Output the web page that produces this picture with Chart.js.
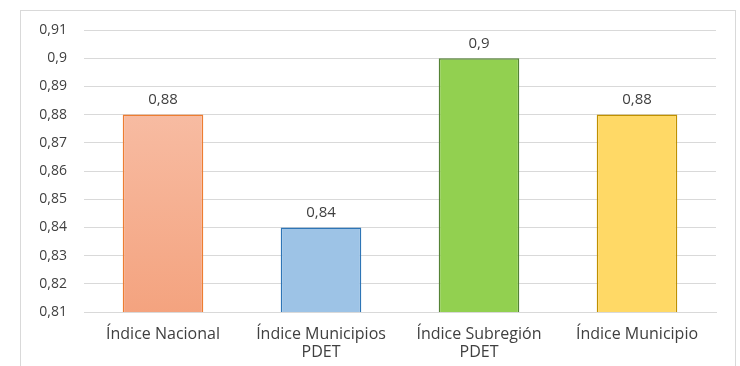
<!DOCTYPE html>
<html>
<head>
<meta charset="utf-8">
<script src="https://cdn.jsdelivr.net/npm/chart.js@4.4.1/dist/chart.umd.min.js"></script>
<style>
    html, body { margin: 0; padding: 0; background: #ffffff; }
    #wrap { position: relative; width: 740px; height: 366px; overflow: hidden; }
    #frame {
        position: absolute; left: 20px; top: 10px; width: 716px; height: 380px;
        border: 1px solid #d9d9d9; box-sizing: border-box;
    }
    #chartIndices { position: absolute; left: 0; top: 0; }
</style>
</head>
<body>
<div id="wrap">
    <div id="frame"></div>
    <canvas id="chartIndices" width="740" height="366"></canvas>
</div>
<script>
/* ------------------------------------------------------------
   Дані
------------------------------------------------------------ */
const categories = [
    "Índice Nacional",
    ["Índice Municipios", "PDET"],
    ["Índice Subregión", "PDET"],
    "Índice Municipio"
];
const values = [0.88, 0.84, 0.90, 0.88];
const yTicks = [0.81, 0.82, 0.83, 0.84, 0.85, 0.86, 0.87, 0.88, 0.89, 0.90, 0.91];

const fillColors = [null, "#9dc3e6", "#92d050", "#ffd966"];
const borderColors = ["#ed7d31", "#2e75b6", "#548235", "#bf9000"];

const FONT = "'Open Sans', Lato, sans-serif";
const TEXT = "#404040";

// 0.9 -> "0,9", 0.88 -> "0,88"
function fmt(v) {
    return String(Number(v.toFixed(2))).replace(".", ",");
}

// перший стовпчик має вертикальний градієнт
function barFill(ctx) {
    const i = ctx.dataIndex;
    if (fillColors[i]) return fillColors[i];
    const area = ctx.chart.chartArea;
    if (!area) return "#f6b294";
    const g = ctx.chart.ctx.createLinearGradient(0, area.top, 0, area.bottom);
    g.addColorStop(0, "#f9c6b1");
    g.addColorStop(1, "#f4a37f");
    return g;
}

// підписи значень над стовпчиками
const valueLabels = {
    id: "valueLabels",
    afterDatasetsDraw(chart) {
        const c = chart.ctx;
        const meta = chart.getDatasetMeta(0);
        c.save();
        c.font = "15px " + FONT;
        c.fillStyle = TEXT;
        c.textAlign = "center";
        c.textBaseline = "bottom";
        meta.data.forEach((bar, i) => {
            c.fillText(fmt(values[i]), bar.x, bar.y - 7);
        });
        c.restore();
    }
};

new Chart(document.getElementById("chartIndices"), {
    type: "bar",
    data: {
        labels: categories,
        datasets: [{
            data: values,
            backgroundColor: barFill,
            borderColor: borderColors,
            borderWidth: 1.5,
            barPercentage: 0.51,
            categoryPercentage: 1
        }]
    },
    options: {
        responsive: false,
        animation: false,
        layout: { padding: { left: 0, right: 24, top: 30, bottom: 0 } },
        plugins: {
            legend: { display: false },
            tooltip: { enabled: false }
        },
        scales: {
            x: {
                grid: { display: false },
                border: { color: "#d9d9d9", width: 1 },
                ticks: {
                    color: TEXT,
                    font: { family: FONT, size: 16, lineHeight: 1.15 },
                    padding: 5,
                    maxRotation: 0,
                    autoSkip: false
                },
                afterFit(scale) { scale.height = 54; }
            },
            y: {
                min: yTicks[0],
                max: yTicks[yTicks.length - 1],
                afterBuildTicks(scale) {
                    scale.ticks = yTicks.map(v => ({ value: v }));
                },
                grid: { color: "#d9d9d9", lineWidth: 1, drawTicks: false },
                border: { display: false },
                ticks: {
                    color: TEXT,
                    font: { family: FONT, size: 14 },
                    padding: 17,
                    callback: v => fmt(v)
                },
                afterFit(scale) { scale.width = 84; }
            }
        }
    },
    plugins: [valueLabels]
});
</script>
</body>
</html>
